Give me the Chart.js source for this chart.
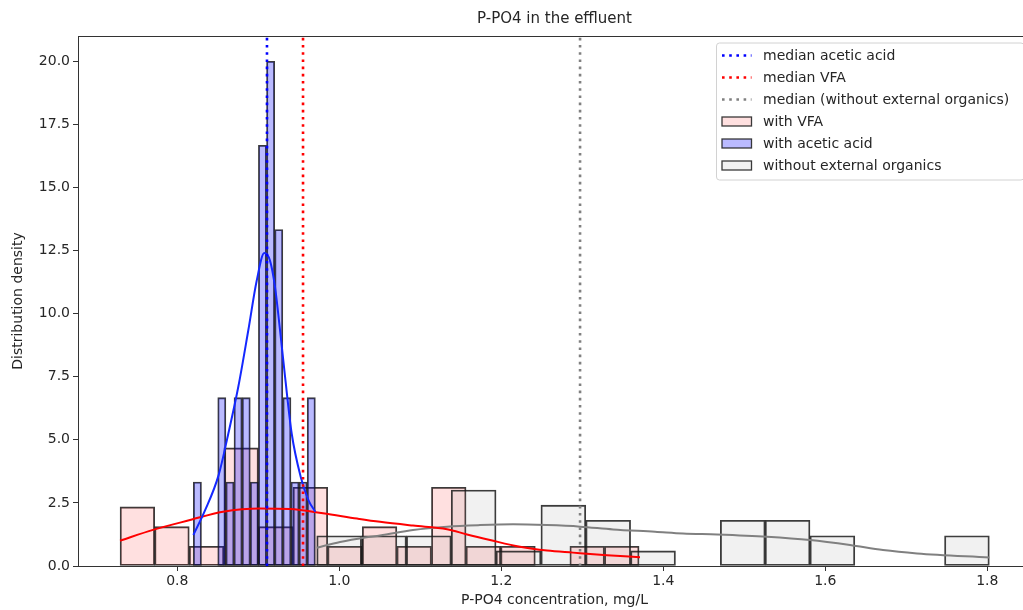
<!DOCTYPE html>
<html>
<head>
<meta charset="utf-8">
<script src="https://cdn.jsdelivr.net/npm/chart.js@4.4.1/dist/chart.umd.min.js"></script>
<style>
html, body { margin: 0; padding: 0; overflow: hidden; background: #ffffff; }
#wrap { position: relative; width: 1096px; height: 610px; }
</style>
</head>
<body>
<div id="wrap"><canvas id="c"></canvas></div>
<script>
// ---------- data ----------
const chartTitle = 'P-PO4 in the effluent';
const xAxisTitle = 'P-PO4 concentration, mg/L';
const yAxisTitle = 'Distribution density';

const xTickValues = [0.8, 1.0, 1.2, 1.4, 1.6, 1.8];
const yTickValues = [0, 2.5, 5, 7.5, 10, 12.5, 15, 17.5, 20];

// histogram bin centres (mg/L) and densities
const vfaBinCenters = [0.7507, 0.7934, 0.8361, 0.8788, 0.9215, 0.9643, 1.0070, 1.0497, 1.0924, 1.1351, 1.1778, 1.2206, 1.2633, 1.3060, 1.3487];
const vfaDensity    = [2.34, 1.56, 0.78, 4.68, 1.56, 3.12, 0.78, 1.56, 0.78, 3.12, 0.78, 0.78, 0, 0.78, 0.78];

const aceticBinCenters = [0.8248, 0.8349, 0.8449, 0.8549, 0.8650, 0.8750, 0.8851, 0.8951, 0.9051, 0.9152, 0.9252, 0.9353, 0.9453, 0.9553, 0.9654];
const aceticDensity    = [3.33, 0, 0, 6.67, 3.33, 6.67, 6.67, 3.33, 16.67, 20.0, 13.33, 6.67, 3.33, 3.33, 6.67];

const noOrgBinCenters = [0.9998, 1.0551, 1.1105, 1.1658, 1.2212, 1.2766, 1.3319, 1.3873, 1.4427, 1.4980, 1.5534, 1.6087, 1.6641, 1.7195, 1.7748];
const noOrgDensity    = [1.20, 1.20, 1.20, 3.01, 0.60, 2.41, 1.81, 0.60, 0, 1.81, 1.81, 1.20, 0, 0, 1.20];

// KDE curves
const vfaKdeX = [0.7293, 0.7700, 0.8157, 0.8564, 0.9021, 0.9391, 0.9799, 1.0219, 1.0503, 1.0910, 1.1330, 1.1577, 1.1860, 1.2231, 1.2564, 1.2885, 1.3305, 1.3712];
const vfaKdeY = [1.00, 1.43, 1.82, 2.15, 2.28, 2.26, 2.09, 1.88, 1.75, 1.60, 1.46, 1.25, 1.03, 0.76, 0.61, 0.53, 0.43, 0.35];

const aceticKdeX = [0.8198, 0.8342, 0.8510, 0.8630, 0.8753, 0.8877, 0.8980, 0.9074, 0.9144, 0.9206, 0.9268, 0.9330, 0.9412, 0.9522, 0.9620, 0.9704];
const aceticKdeY = [1.23, 2.20, 3.60, 5.25, 7.10, 9.35, 11.30, 12.40, 12.10, 11.06, 9.35, 7.50, 5.25, 3.55, 2.60, 2.15];

const noOrgKdeX = [0.9721, 1.0009, 1.0317, 1.0503, 1.0910, 1.1330, 1.1737, 1.2145, 1.2564, 1.2972, 1.3379, 1.3898, 1.4243, 1.4663, 1.5280, 1.5811, 1.6305, 1.6712, 1.7132, 1.8025];
const noOrgKdeY = [0.72, 0.95, 1.13, 1.21, 1.43, 1.56, 1.62, 1.65, 1.62, 1.56, 1.45, 1.36, 1.29, 1.25, 1.16, 1.03, 0.83, 0.63, 0.50, 0.34];

// medians
const medianAcetic = 0.9107;
const medianVFA = 0.9552;
const medianNoOrg = 1.2972;

const legendLabels = ['median acetic acid', 'median VFA', 'median (without external organics)', 'with VFA', 'with acetic acid', 'without external organics'];

// axis ranges
const xMin = 0.6774, xMax = 1.8539;
const yMin = 0, yMax = 21;

// ---------- styles ----------
const FONT = "'DejaVu Sans', 'Liberation Sans', sans-serif";
const TEXT = '#262626';
const AXIS = '#333333';
const pinkFill = 'rgba(255,0,0,0.12)';
const blueFill = 'rgba(0,0,255,0.27)';
const greyFill = 'rgba(128,128,128,0.11)';
const barEdge = 'rgba(25,25,25,0.85)';
const dotDash = [2.6, 4.6];

Chart.defaults.font.family = FONT;
Chart.defaults.font.size = 14;
Chart.defaults.color = TEXT;

const pts = (xs, ys) => xs.map((x, i) => ({ x: x, y: ys[i] }));

function barDs(label, xs, ys, fill, order) {
  return {
    type: 'bar', label: label, data: pts(xs, ys), xAxisID: 'x', yAxisID: 'y',
    stack: 'hist',
    backgroundColor: fill, borderColor: barEdge, borderWidth: 1.2, borderSkipped: false,
    barThickness: 'flex', categoryPercentage: 1.0, barPercentage: 1.0, order: order
  };
}
function kdeDs(label, xs, ys, color, width, order) {
  return {
    type: 'line', label: label, data: pts(xs, ys), xAxisID: 'x', yAxisID: 'y',
    borderColor: color, borderWidth: width, pointRadius: 0, fill: false,
    cubicInterpolationMode: 'monotone', order: order
  };
}
function medianDs(label, m, color, order) {
  return {
    type: 'line', label: label, data: [{ x: m, y: yMin }, { x: m, y: yMax }], xAxisID: 'x', yAxisID: 'y',
    borderColor: color, borderWidth: 2.6, borderDash: dotDash, borderCapStyle: 'butt',
    pointRadius: 0, fill: false, tension: 0, order: order
  };
}

const framePlugin = {
  id: 'frame',
  afterDatasetsDraw(chart) {
    const { ctx, chartArea: a } = chart;
    ctx.save();
    ctx.strokeStyle = AXIS;
    ctx.lineWidth = 1;
    ctx.strokeRect(Math.round(a.left) + 0.5, Math.round(a.top) + 0.5, Math.round(a.right - a.left), Math.round(a.bottom - a.top));
    ctx.restore();
  }
};

const legendStyles = [
  { kind: 'line', color: 'rgb(0,0,255)' },
  { kind: 'line', color: 'rgb(255,0,0)' },
  { kind: 'line', color: 'rgb(128,128,128)' },
  { kind: 'box', color: pinkFill },
  { kind: 'box', color: blueFill },
  { kind: 'box', color: greyFill }
];

const mplLegend = {
  id: 'mplLegend',
  afterDraw(chart) {
    const { ctx, chartArea: a } = chart;
    const w = 307.5, h = 137, r = 3;
    const x0 = a.right - 7 - w, y0 = a.top + 7;
    ctx.save();
    ctx.beginPath();
    ctx.moveTo(x0 + r, y0);
    ctx.lineTo(x0 + w - r, y0);
    ctx.arcTo(x0 + w, y0, x0 + w, y0 + r, r);
    ctx.lineTo(x0 + w, y0 + h - r);
    ctx.arcTo(x0 + w, y0 + h, x0 + w - r, y0 + h, r);
    ctx.lineTo(x0 + r, y0 + h);
    ctx.arcTo(x0, y0 + h, x0, y0 + h - r, r);
    ctx.lineTo(x0, y0 + r);
    ctx.arcTo(x0, y0, x0 + r, y0, r);
    ctx.closePath();
    ctx.fillStyle = 'rgba(255,255,255,0.8)';
    ctx.fill();
    ctx.strokeStyle = '#d2d2d2';
    ctx.lineWidth = 1;
    ctx.stroke();

    ctx.font = '14px ' + FONT;
    ctx.textBaseline = 'middle';
    ctx.textAlign = 'left';
    legendLabels.forEach((lab, i) => {
      const yy = y0 + 12.5 + i * 22;
      const hx0 = x0 + 5.5, hx1 = x0 + 35;
      const st = legendStyles[i];
      if (st.kind === 'line') {
        ctx.save();
        ctx.strokeStyle = st.color;
        ctx.lineWidth = 2.6;
        ctx.setLineDash(dotDash);
        ctx.lineCap = 'butt';
        ctx.beginPath();
        ctx.moveTo(hx0, yy);
        ctx.lineTo(hx1, yy);
        ctx.stroke();
        ctx.restore();
      } else {
        ctx.fillStyle = st.color;
        ctx.fillRect(hx0, yy - 4.5, hx1 - hx0, 9);
        ctx.strokeStyle = barEdge;
        ctx.lineWidth = 1.3;
        ctx.strokeRect(hx0, yy - 4.5, hx1 - hx0, 9);
      }
      ctx.fillStyle = TEXT;
      ctx.fillText(lab, x0 + 46.5, yy + 1);
    });
    ctx.restore();
  }
};

new Chart(document.getElementById('c'), {
  type: 'bar',
  data: {
    datasets: [
      medianDs(legendLabels[0], medianAcetic, 'rgb(0,0,255)', 1),
      medianDs(legendLabels[1], medianVFA, 'rgb(255,0,0)', 2),
      medianDs(legendLabels[2], medianNoOrg, 'rgb(128,128,128)', 3),
      kdeDs('KDE acetic acid', aceticKdeX, aceticKdeY, 'rgb(20,40,255)', 2, 4),
      kdeDs('KDE VFA', vfaKdeX, vfaKdeY, 'rgb(255,0,0)', 2, 5),
      kdeDs('KDE without external organics', noOrgKdeX, noOrgKdeY, 'rgb(128,128,128)', 2, 6),
      barDs(legendLabels[5], noOrgBinCenters, noOrgDensity, greyFill, 10),
      barDs(legendLabels[4], aceticBinCenters, aceticDensity, blueFill, 11),
      barDs(legendLabels[3], vfaBinCenters, vfaDensity, pinkFill, 12)
    ]
  },
  options: {
    responsive: true,
    maintainAspectRatio: false,
    animation: false,
    layout: { padding: { left: 0, right: 65, top: 0, bottom: 0 } },
    plugins: {
      legend: { display: false },
      tooltip: { enabled: false },
      title: {
        display: true, text: chartTitle, color: TEXT, fullSize: false,
        font: { size: 15, weight: 'normal', family: FONT },
        padding: { top: 10, bottom: 8 }
      }
    },
    scales: {
      x: {
        type: 'linear', position: 'bottom', min: xMin, max: xMax, offset: false,
        afterFit: (s) => { s.height = 44; },
        afterBuildTicks: (s) => { s.ticks = xTickValues.map(v => ({ value: v })); },
        ticks: { callback: (v) => Number(v).toFixed(1), padding: 2, color: TEXT, font: { size: 14 }, maxRotation: 0, autoSkip: false },
        grid: { offset: false, drawOnChartArea: false, drawTicks: true, tickLength: 5, color: AXIS },
        border: { display: true, color: AXIS, width: 1 },
        title: { display: true, text: xAxisTitle, color: TEXT, font: { size: 14 }, padding: { top: 0, bottom: 1 } }
      },
      y: {
        type: 'linear', position: 'left', min: yMin, max: yMax, stacked: false,
        afterFit: (s) => { s.width = 78; },
        afterBuildTicks: (s) => { s.ticks = yTickValues.map(v => ({ value: v })); },
        ticks: { callback: (v) => Number(v).toFixed(1), padding: 3, color: TEXT, font: { size: 14 }, autoSkip: false },
        grid: { drawOnChartArea: false, drawTicks: true, tickLength: 5, color: AXIS },
        border: { display: true, color: AXIS, width: 1 },
        title: { display: true, text: yAxisTitle, color: TEXT, font: { size: 14 }, padding: { top: 10, bottom: 0 } }
      }
    }
  },
  plugins: [framePlugin, mplLegend]
});
</script>
</body>
</html>
